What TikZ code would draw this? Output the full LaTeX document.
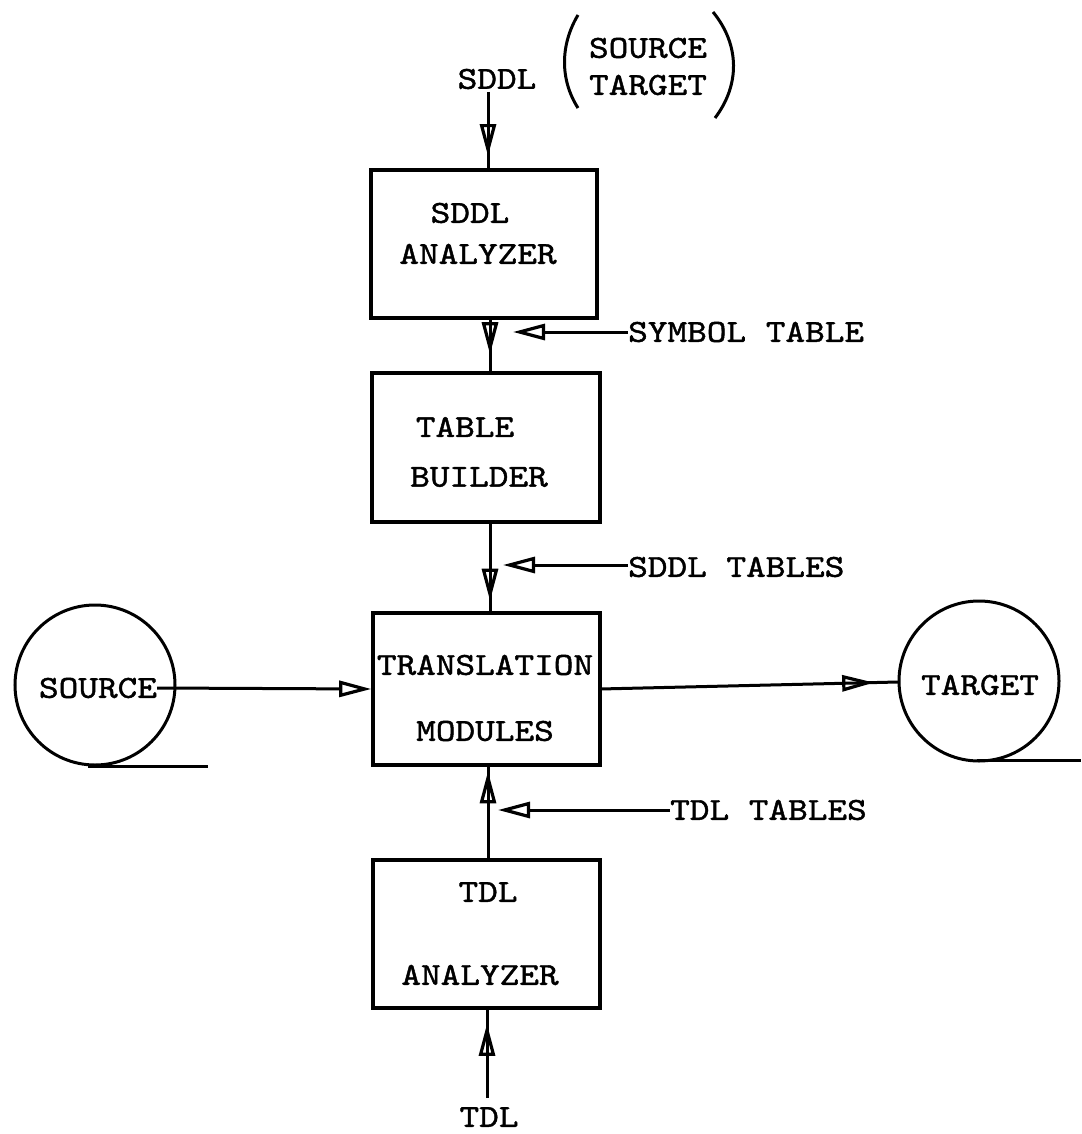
\documentclass[tikz,border=0pt]{standalone}
\usepackage{fontspec}
\usetikzlibrary{arrows.meta,decorations.markings}

% wide, slightly heavy typewriter lettering
\newfontfamily\twfont{lmmono10-regular.otf}[FakeStretch=1.17, FakeBold=1.4]

\tikzset{
  block/.style={draw, line width=3.6pt, inner sep=0pt},
  tape/.style={draw, circle, line width=3pt, inner sep=0pt, minimum size=160pt},
  word/.style={inner sep=0pt, font=\twfont\fontsize{32}{32}\selectfont},
  flow/.style={line width=3pt},
  tip/.style={-{Triangle[open, length=32pt, width=16pt, line width=3.2pt]}},
  headat/.style={postaction={decorate}, decoration={markings,
      mark=at position #1 with {\arrow{Triangle[open, length=32pt, width=16pt, line width=3.2pt]}}}},
}

\begin{document}
\begin{tikzpicture}[x=1pt, y=-1pt]
  \useasboundingbox (0,0) rectangle (1081,1134);

  % processing blocks
  \node[block, minimum width=226pt, minimum height=148pt] (sddlA) at (484,244) {};
  \node[block, minimum width=228pt, minimum height=149pt] (tb) at (486,447.5) {};
  \node[block, minimum width=227pt, minimum height=152pt] (tm) at (486.5,689) {};
  \node[block, minimum width=227pt, minimum height=148pt] (tdlA) at (486.5,934) {};

  \node[word] (sddlA1) at (470,213) {SDDL};
  \node[word] (sddlA2) at (478,254) {ANALYZER};
  \node[word] (tb1) at (465,427) {TABLE};
  \node[word] (tb2) at (479,477) {BUILDER};
  \node[word] (tm1) at (485,665) {TRANSLATION};
  \node[word] (tm2) at (485,731) {MODULES};
  \node[word] (tdlA1) at (488,892) {TDL};
  \node[word] (tdlA2) at (480,975) {ANALYZER};

  % tapes
  \node[tape] (src) at (95,685) {};
  \node[word] (srcT) at (98,688) {SOURCE};
  \node[tape] (tgt) at (979,681) {};
  \node[word] (tgtT) at (980,685) {TARGET};
  \coordinate (srcL1) at (88,766);
  \coordinate (srcL2) at (208,766);
  \coordinate (tgtL1) at (977,760);
  \coordinate (tgtL2) at (1081,760);
  \draw[flow] (srcL1) -- (srcL2);
  \draw[flow] (tgtL1) -- (tgtL2);

  % inputs and side labels
  \node[word] (sddlIn) at (497,79) {SDDL};
  \node[word] (srcWord) at (648,48) {SOURCE};
  \node[word] (tgtWord) at (648,85) {TARGET};
  \node[word, anchor=west] (symT) at (628,332) {SYMBOL TABLE};
  \node[word, anchor=west] (sddlT) at (628,567) {SDDL TABLES};
  \node[word, anchor=west] (tdlT) at (670,810) {TDL TABLES};
  \node[word] (tdlIn) at (489,1117) {TDL};

  % brackets round SOURCE / TARGET
  \draw[flow] (578,15) .. controls (560,45) and (560,80) .. (578,108);
  \draw[flow] (713,12) .. controls (740,45) and (740,85) .. (715,118);

  % main vertical flow
  \coordinate (a0) at (488,92);
  \draw[flow, headat=0.84] (a0) -- (a0 |- sddlA.north);
  \coordinate (a1) at (490,0);
  \draw[flow, headat=0.67] (a1 |- sddlA.south) -- (a1 |- tb.north);
  \coordinate (a2) at (490,0);
  \draw[flow, headat=0.88] (a2 |- tb.south) -- (a2 |- tm.north);
  \coordinate (a3) at (488,0);
  \draw[flow, headat=0.95] (a3 |- tdlA.north) -- (a3 |- tm.south);
  \coordinate (a4) at (487,1098);
  \draw[flow, headat=0.84] (a4) -- (a4 |- tdlA.south);

  % table inputs
  \coordinate (s1) at (513,332);
  \draw[flow, tip] (symT.west) -- (s1);
  \coordinate (s2) at (503,565);
  \draw[flow, tip] (sddlT.west |- s2) -- (s2);
  \coordinate (s3) at (498,810);
  \draw[flow, tip] (tdlT.west) -- (s3);

  % data flow through the translator
  \draw[flow, tip] (srcT.east) -- (tm.west);
  \coordinate (t0) at (600,689);
  \coordinate (t1) at (898,682);
  \draw[flow, headat=0.92] (t0) -- (t1);
\end{tikzpicture}
\end{document}
